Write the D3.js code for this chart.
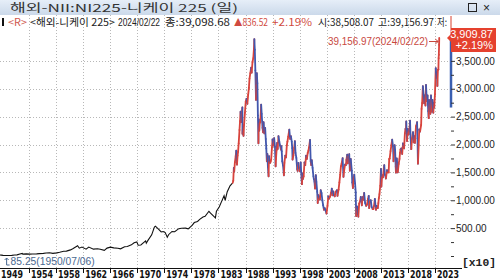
<!DOCTYPE html>
<html>
<head>
<meta charset="utf-8">
<script src="https://cdn.jsdelivr.net/npm/d3@7"></script>
<style>
  body { margin: 0; background: #fff; }
  svg { display: block; font-family: "Liberation Sans", Arial, sans-serif; }
  .kr { font-family: "Noto Sans CJK KR", "Liberation Sans", sans-serif; }
  .narrow { font-family: "Liberation Sans Narrow", "Liberation Sans", sans-serif; }
</style>
</head>
<body>
<div id="chart"></div>
<script>
// Chart data (dates as decimal years, values = Nikkei 225 index)
// close-only history, drawn as a black line
let lineSeries = [
  [1949.37,176],[1949.6,150],[1949.9,110],[1950.2,100],[1950.51,85.25],[1950.8,100],[1951.0,101],
  [1951.4,120],[1951.9,166],[1952.3,200],[1952.8,350],[1953.2,474],[1953.3,340],[1953.9,380],
  [1954.5,330],[1954.9,356],[1955.5,380],[1955.9,425],[1956.5,470],[1956.9,549],[1957.4,595],
  [1957.9,474],[1958.5,560],[1958.9,666],[1959.5,850],[1959.9,874],[1960.5,1100],[1960.9,1356],
  [1961.55,1829],[1961.8,1400],[1962.2,1600],[1962.8,1216],[1963.2,1600],[1963.9,1225],[1964.5,1300],
  [1964.9,1216],[1965.5,1020],[1965.9,1417],[1966.4,1590],[1966.9,1452],[1967.5,1400],[1967.9,1283],
  [1968.5,1650],[1968.9,1714],[1969.5,2000],[1969.9,2359],[1970.3,2534],[1970.5,1930],[1970.9,1987],
  [1971.6,2700],[1971.7,2300],[1971.9,2714],[1972.5,3800],[1972.9,5207],[1973.05,5359],[1973.5,4800],
  [1973.9,4306],[1974.2,4400],[1974.5,4200],[1974.8,3355],[1974.99,3817],[1975.5,4400],[1975.9,4358],
  [1976.5,4900],[1976.9,4990],[1977.5,5000],[1977.9,4866],[1978.5,5500],[1978.9,6001],[1979.5,6200],
  [1979.9,6569],[1980.5,7000],[1980.9,7116],[1981.6,8019],[1981.9,7682],[1982.8,6849],[1982.99,8016],
  [1983.5,8800],[1983.99,9893],[1984.4,10800],[1984.6,10000],[1984.99,11542],[1985.5,12600],[1985.99,13113]
];

// daily bar period, coloured red (up) / blue (down)
let barSeries = [
  [1986.00,13113],[1986.10,13500],[1986.20,15800],[1986.28,15200],[1986.40,16800],[1986.55,17900],[1986.65,18900],[1986.78,16400],[1986.90,18000],[1986.99,18701],
  [1987.10,20200],[1987.25,22600],[1987.35,24200],[1987.45,25900],[1987.55,24000],[1987.65,25400],[1987.78,26646],[1987.80,21910],[1987.90,23300],[1987.99,21564],
  [1988.10,23600],[1988.25,25700],[1988.40,27700],[1988.55,28200],[1988.70,27300],[1988.85,28900],[1988.99,30159],
  [1989.10,31800],[1989.25,32800],[1989.40,33800],[1989.50,32900],[1989.65,34800],[1989.80,35500],[1989.92,37200],[1989.99,38915],
  [1990.08,37000],[1990.18,33300],[1990.30,28002],[1990.38,30500],[1990.45,32800],[1990.55,31000],[1990.65,25200],[1990.75,20222],[1990.82,24500],[1990.90,22500],[1990.99,23849],
  [1991.10,24000],[1991.25,27146],[1991.35,25500],[1991.50,23000],[1991.60,22200],[1991.70,24000],[1991.85,22000],[1991.99,22984],
  [1992.10,21000],[1992.20,19300],[1992.30,17000],[1992.40,18300],[1992.50,16000],[1992.62,14309],[1992.70,17900],[1992.80,17000],[1992.90,16700],[1992.99,16925],
  [1993.10,17300],[1993.25,19500],[1993.35,20900],[1993.50,19800],[1993.65,21148],[1993.80,19600],[1993.92,16100],[1993.99,17417],
  [1994.10,19000],[1994.20,20300],[1994.30,19200],[1994.45,21500],[1994.60,20500],[1994.75,19800],[1994.90,19100],[1994.99,19723],
  [1995.05,18800],[1995.15,17000],[1995.30,16200],[1995.45,14485],[1995.55,16700],[1995.70,18000],[1995.85,17700],[1995.99,19868],
  [1996.10,20500],[1996.25,21400],[1996.45,22666],[1996.60,21000],[1996.75,21500],[1996.90,20500],[1996.99,19361],
  [1997.05,17300],[1997.20,18000],[1997.35,19400],[1997.48,20600],[1997.60,18500],[1997.75,17600],[1997.90,15600],[1997.99,15259],
  [1998.10,16700],[1998.25,15800],[1998.40,15200],[1998.55,16800],[1998.70,14000],[1998.78,12880],[1998.90,14800],[1998.99,13842],
  [1999.10,14300],[1999.25,16800],[1999.40,16300],[1999.55,18000],[1999.70,17400],[1999.85,18500],[1999.99,18934],
  [2000.10,19500],[2000.28,20833],[2000.40,17000],[2000.50,16300],[2000.60,17200],[2000.75,15800],[2000.90,14300],[2000.99,13786],
  [2001.10,13300],[2001.20,12100],[2001.35,14500],[2001.45,13300],[2001.60,11500],[2001.70,9504],[2001.82,10900],[2001.99,10543],
  [2002.10,10100],[2002.25,11800],[2002.40,11300],[2002.55,10000],[2002.70,9100],[2002.85,8300],[2002.99,8579],
  [2003.10,8300],[2003.32,7607],[2003.50,9000],[2003.65,10700],[2003.80,10300],[2003.99,10677],
  [2004.15,11300],[2004.30,12100],[2004.40,10900],[2004.55,11600],[2004.70,10900],[2004.85,10700],[2004.99,11489],
  [2005.10,11600],[2005.25,11800],[2005.35,10800],[2005.55,11900],[2005.70,13200],[2005.85,14600],[2005.99,16111],
  [2006.10,16500],[2006.30,17563],[2006.45,14200],[2006.60,15500],[2006.75,16400],[2006.90,16300],[2006.99,17226],
  [2007.15,18200],[2007.25,16600],[2007.40,17800],[2007.52,18262],[2007.63,15300],[2007.80,17400],[2007.99,15308],
  [2008.08,13200],[2008.20,12200],[2008.35,14000],[2008.45,14600],[2008.60,13000],[2008.72,11400],[2008.80,7163],[2008.88,8900],[2008.99,8860],
  [2009.10,7600],[2009.20,7055],[2009.35,9400],[2009.50,9800],[2009.65,10600],[2009.85,9100],[2009.99,10546],
  [2010.10,10100],[2010.28,11300],[2010.45,9500],[2010.65,9000],[2010.80,9200],[2010.99,10229],
  [2011.12,10800],[2011.20,8605],[2011.35,9700],[2011.50,10000],[2011.65,8800],[2011.85,8400],[2011.99,8455],
  [2012.10,9000],[2012.25,10255],[2012.45,8295],[2012.60,9000],[2012.80,8600],[2012.90,9500],[2012.99,10395],
  [2013.10,11100],[2013.25,12600],[2013.38,15627],[2013.45,12445],[2013.60,14500],[2013.75,14100],[2013.90,15700],[2013.99,16291],
  [2014.10,14600],[2014.30,13900],[2014.50,15400],[2014.65,15000],[2014.80,15000],[2014.90,17400],[2014.99,17451],
  [2015.15,18800],[2015.30,19900],[2015.45,20868],[2015.60,19700],[2015.70,17000],[2015.90,19900],[2015.99,19034],
  [2016.10,16000],[2016.15,14950],[2016.30,17500],[2016.48,15000],[2016.65,16500],[2016.80,17400],[2016.90,18500],[2016.99,19114],
  [2017.15,19300],[2017.30,18300],[2017.45,20200],[2017.65,19300],[2017.80,22000],[2017.90,22800],[2017.99,22765],
  [2018.05,24124],[2018.20,20617],[2018.35,22800],[2018.50,21800],[2018.65,22800],[2018.75,24270],[2018.85,21200],[2018.98,19155],
  [2019.10,21000],[2019.30,22200],[2019.40,20400],[2019.55,21500],[2019.65,20300],[2019.85,23300],[2019.99,23657],
  [2020.05,24000],[2020.13,21100],[2020.21,16553],[2020.35,19900],[2020.45,22700],[2020.60,22300],[2020.80,23500],[2020.88,26400],[2020.99,27444],
  [2021.12,30468],[2021.25,29000],[2021.35,27400],[2021.50,28800],[2021.60,27000],[2021.70,30670],[2021.85,27800],[2021.99,28792],
  [2022.10,26000],[2022.20,24717],[2022.25,28000],[2022.35,26000],[2022.45,27500],[2022.50,25500],[2022.62,28800],[2022.75,25900],[2022.90,28000],[2022.99,26095],
  [2023.05,25700],[2023.15,27500],[2023.22,26632],[2023.35,29000],[2023.50,33700],[2023.60,32000],[2023.72,33000],[2023.80,30500],[2023.90,33400],[2023.99,33464],
  [2024.03,35500],[2024.07,36100],[2024.12,37900],[2024.14,39099]
];

let xTickYears = [1949,1954,1958,1962,1966,1970,1974,1978,1983,1988,1993,1998,2003,2008,2013,2018,2023];
let yTicks = [5000,10000,15000,20000,25000,30000,35000];
let range52 = [26632, 39156.97];

let lowPoint  = { date: 1950.51, value: 85.25,    label: "85.25(1950/07/06)" };
let highPoint = { date: 2024.14, value: 39156.97, label: "39,156.97(2024/02/22)" };
let lastLabel = ["3,909.87", "+2.19%"];
let lastClose = 39098.68;

let titleText = "해외-NII:NI225-니케이 225 (일)";
let infoItems = [
  { text: "<R>",              x: 8,   w: 19, color: "#d05a50", cls: "kr" },
  { text: "<해외-니케이 225>", x: 30,  w: 85, color: "#222",    cls: "kr" },
  { text: "2024/02/22",       x: 118, w: 42, color: "#222",    cls: "narrow" },
  { text: "종:39,098.68",      x: 165, w: 65, color: "#222",    cls: "kr" },
  { text: "▲836.52",          x: 234, w: 34, color: "#d04a40", cls: "kr" },
  { text: "+2.19%",           x: 272, w: 40, color: "#d04a40", cls: "kr" },
  { text: "시:38,508.07",      x: 318, w: 56, color: "#222",    cls: "kr" },
  { text: "고:39,156.97",      x: 378, w: 56, color: "#222",    cls: "kr" },
  { text: "저:",               x: 437, w: 10, color: "#222",    cls: "kr" }
];

// Layout
let svgWidth = 500;
let svgHeight = 279;
let plotTop = 15, plotBottom = 268, axisX = 451;
let tickStep = 27.07;

let svg = d3.select("#chart").append("svg")
  .attr("width", svgWidth)
  .attr("height", svgHeight);

// x scale: index based axis, ticks evenly spaced
let xScale = d3.scaleLinear()
  .domain(xTickYears.map((y, i) => i === 0 ? lineSeries[0][0] : y + 0.37))
  .range(xTickYears.map((y, i) => i === 0 ? 0 : 29 + (i - 1) * tickStep));

let yScale = d3.scaleLinear().domain([0, 40000]).range([256, 33]);

// title bar
let defs = svg.append("defs");
let grad = defs.append("linearGradient").attr("id", "tb").attr("x1", 0).attr("x2", 0).attr("y1", 0).attr("y2", 1);
grad.append("stop").attr("offset", "0%").attr("stop-color", "#e6eef8");
grad.append("stop").attr("offset", "100%").attr("stop-color", "#cbd9ea");
svg.append("rect").attr("x", 0).attr("y", 0).attr("width", svgWidth).attr("height", 15).attr("fill", "url(#tb)");
svg.append("text").attr("class", "kr")
  .attr("x", 10).attr("y", 11.5)
  .attr("font-size", 11).attr("fill", "#333")
  .attr("textLength", 228).attr("lengthAdjust", "spacingAndGlyphs")
  .text(titleText);
svg.append("rect").attr("x", 468.5).attr("y", 3.5).attr("width", 8).attr("height", 8)
  .attr("fill", "none").attr("stroke", "#222");
svg.append("text").attr("x", 483).attr("y", 12).attr("font-size", 12).attr("fill", "#222").text("×");

// grid
let grid = svg.append("g").attr("stroke", "#b8b8b8").attr("stroke-dasharray", "1,2");
grid.selectAll("line.h").data(yTicks).enter().append("line")
  .attr("x1", 0).attr("x2", axisX)
  .attr("y1", d => Math.round(yScale(d)) + 0.5).attr("y2", d => Math.round(yScale(d)) + 0.5);
grid.selectAll("line.v").data(xTickYears.slice(1)).enter().append("line")
  .attr("x1", d => Math.round(xScale(d + 0.37)) + 0.5).attr("x2", d => Math.round(xScale(d + 0.37)) + 0.5)
  .attr("y1", plotTop).attr("y2", plotBottom);

// info line
svg.append("rect").attr("x", 2).attr("y", 18).attr("width", 2).attr("height", 8).attr("fill", "#111");
svg.selectAll("text.info").data(infoItems).enter().append("text")
  .attr("class", d => d.cls)
  .attr("x", d => d.x).attr("y", 26)
  .attr("font-size", 10).attr("fill", d => d.color)
  .attr("textLength", d => d.w).attr("lengthAdjust", "spacingAndGlyphs")
  .text(d => d.text);

// 52 week range marker on the axis
svg.append("line").attr("x1", axisX).attr("x2", axisX)
  .attr("y1", 16).attr("y2", yScale(range52[1]))
  .attr("stroke", "#d8402f").attr("stroke-width", 1);
svg.append("line").attr("x1", axisX).attr("x2", axisX)
  .attr("y1", yScale(range52[1])).attr("y2", yScale(range52[0]))
  .attr("stroke", "#3a5fb0").attr("stroke-width", 2.5);

// close-only line
let line = d3.line().x(d => xScale(d[0])).y(d => yScale(d[1]));
svg.append("path").datum(lineSeries)
  .attr("d", line)
  .attr("fill", "none").attr("stroke", "#111").attr("stroke-width", 1.1);

// bar period: segments coloured by direction
let pairs = d3.pairs(barSeries);
svg.append("g").selectAll("line").data(pairs).enter().append("line")
  .attr("x1", d => xScale(d[0][0])).attr("y1", d => yScale(d[0][1]))
  .attr("x2", d => xScale(d[1][0])).attr("y2", d => yScale(d[1][1]))
  .attr("stroke", d => d[1][1] >= d[0][1] ? "#d8433c" : "#4257ad")
  .attr("stroke-width", 1.8)
  .attr("stroke-linecap", "round");

// right axis
let minorTicks = d3.range(0, 40000, 2500).filter(v => v % 5000 !== 0 || v === 0);
let minorAxis = d3.axisRight(yScale).tickValues(minorTicks).tickSize(3).tickFormat("");
svg.append("g").attr("transform", `translate(${axisX},0)`).call(minorAxis)
  .call(g => g.select(".domain").remove())
  .call(g => g.selectAll("line").attr("stroke", "#333"));
let rightAxis = d3.axisRight(yScale).tickValues(yTicks).tickSize(4).tickPadding(1)
  .tickFormat(d => d3.format(",.2f")(d / 10));
svg.append("g").attr("transform", `translate(${axisX},0)`).call(rightAxis)
  .call(g => g.select(".domain").remove())
  .call(g => g.selectAll("line").attr("stroke", "#333"))
  .call(g => g.selectAll("text").attr("font-size", 10).attr("fill", "#222")
    .attr("font-family", "Liberation Sans, Arial, sans-serif"));

svg.append("text").attr("x", 462).attr("y", 266)
  .attr("font-family", "Liberation Mono, monospace").attr("font-weight", "bold")
  .attr("font-size", 11).attr("fill", "#222")
  .attr("textLength", 34).attr("lengthAdjust", "spacingAndGlyphs")
  .text("[x10]");

// last price box
let yLast = yScale(lastClose);
svg.append("path")
  .attr("d", `M447,${yLast} L451,${yLast - 4} L451,28 L496,28 L496,52 L451,52 L451,${yLast + 4} Z`)
  .attr("fill", "#e5412e");
svg.selectAll("text.last").data(lastLabel).enter().append("text")
  .attr("x", 493).attr("y", (d, i) => 38 + i * 11)
  .attr("text-anchor", "end").attr("font-size", 11).attr("fill", "#fff")
  .text(d => d);

// high marker
let hx = xScale(highPoint.date);
svg.append("text").attr("x", 328).attr("y", 45)
  .attr("font-size", 11).attr("fill", "#c8483e")
  .attr("textLength", 100).attr("lengthAdjust", "spacingAndGlyphs")
  .text(highPoint.label);
svg.append("path")
  .attr("d", `M429,41.5 L${hx - 1},41.5 M${hx - 4},39 L${hx - 1},41.5 L${hx - 4},44`)
  .attr("fill", "none").attr("stroke", "#c8483e").attr("stroke-width", 1);

// low marker
let lx = xScale(lowPoint.date);
svg.append("path")
  .attr("d", `M${lx},258 L${lx},265 L${lx + 3},265 M${lx - 2},260 L${lx},258 L${lx + 2},260`)
  .attr("fill", "none").attr("stroke", "#4a6890").attr("stroke-width", 1);
svg.append("text").attr("x", lx + 4).attr("y", 265)
  .attr("font-size", 10).attr("fill", "#4a6890")
  .attr("textLength", 84).attr("lengthAdjust", "spacingAndGlyphs")
  .text(lowPoint.label);

// bottom axis strip
svg.append("line").attr("x1", 0).attr("x2", 462).attr("y1", 268.5).attr("y2", 268.5)
  .attr("stroke", "#111");
let xLabels = svg.append("g");
xLabels.selectAll("line").data(xTickYears.slice(1)).enter().append("line")
  .attr("x1", d => Math.round(xScale(d + 0.37)) + 0.5).attr("x2", d => Math.round(xScale(d + 0.37)) + 0.5)
  .attr("y1", 269).attr("y2", 273).attr("stroke", "#111");
xLabels.selectAll("text").data(xTickYears).enter().append("text")
  .attr("x", (d, i) => i === 0 ? 1 : xScale(d + 0.37) + 2)
  .attr("y", 278)
  .attr("font-family", "DejaVu Sans Condensed, DejaVu Sans, sans-serif")
  .attr("font-weight", "bold").attr("font-size", 10.5).attr("fill", "#111")
  .attr("textLength", 22).attr("lengthAdjust", "spacingAndGlyphs")
  .text(d => d);
</script>
</body>
</html>
